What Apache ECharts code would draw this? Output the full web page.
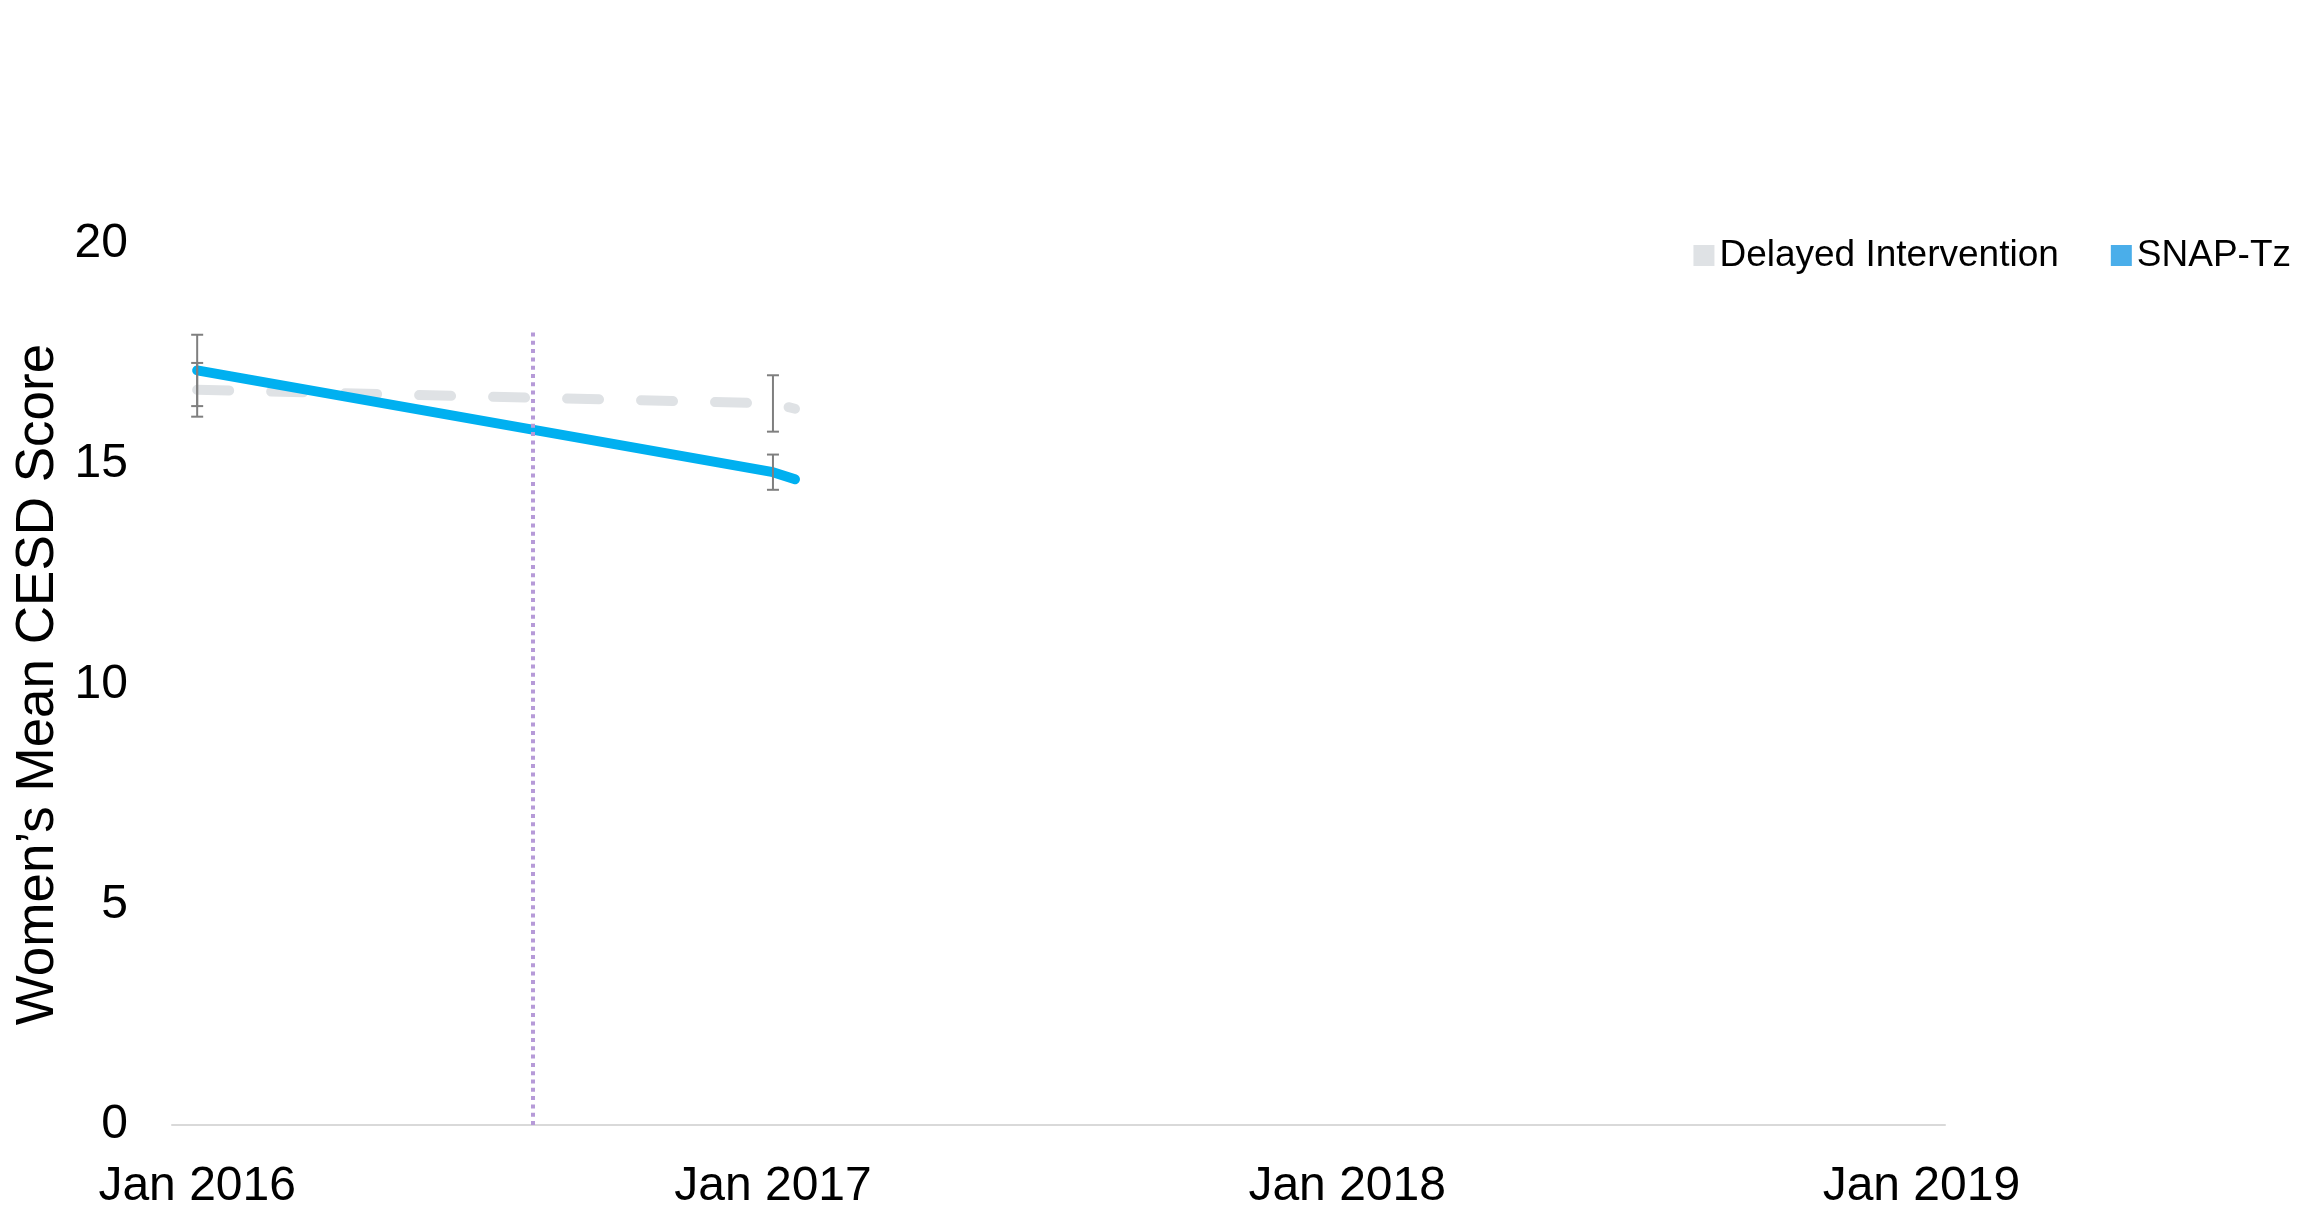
<!DOCTYPE html>
<html>
<head>
<meta charset="utf-8">
<script src="https://cdn.jsdelivr.net/npm/echarts@6/dist/echarts.min.js"></script>
<style>
  html, body { margin: 0; padding: 0; background: #ffffff; }
  #chart { width: 2320px; height: 1207px; }
</style>
</head>
<body>
<div id="chart"></div>
<script>
// Group names
const seriesNames = ['Delayed Intervention', 'SNAP-Tz'];

// Assessment dates and women's mean CES-D scores per group
const visitDates = ['2016-01-01', '2017-01-01', '2017-01-15'];
const delayedMeans = [16.69, 16.38, 16.26];
const snapMeans = [17.13, 14.82, 14.66];

// Error bar half-widths at the two assessments
const errorDates = ['2016-01-01', '2017-01-01'];
const delayedErr = [0.61, 0.64];
const snapErr = [0.81, 0.40];

// Start of the intervention (vertical reference line)
const interventionDate = '2016-08-01';
const interventionTop = 18;

// Axis ticks
const yearTicks = ['2016-01-01', '2017-01-01', '2018-01-01', '2019-01-01'];
const axisStart = '2015-12-16';
const axisEnd = '2019-01-16';
const yMin = 0, yMax = 20, yStep = 5;

const FONT = '"Liberation Sans", Arial, sans-serif';
const MONTHS = ['Jan', 'Feb', 'Mar', 'Apr', 'May', 'Jun', 'Jul', 'Aug', 'Sep', 'Oct', 'Nov', 'Dec'];

// Dates are placed on a linear axis in milliseconds
function t(s) {
  const p = s.split('-').map(Number);
  return Date.UTC(p[0], p[1] - 1, p[2]);
}

const delayedData = visitDates.map((d, i) => [t(d), delayedMeans[i]]);
const snapData = visitDates.map((d, i) => [t(d), snapMeans[i]]);
const errData = errorDates.map((d, i) => [t(d), delayedMeans[i], delayedErr[i]])
  .concat(errorDates.map((d, i) => [t(d), snapMeans[i], snapErr[i]]));

function renderErrorBar(params, api) {
  const x = api.value(0), m = api.value(1), e = api.value(2);
  const top = api.coord([x, m + e]);
  const bot = api.coord([x, m - e]);
  const hw = 6;
  const style = { stroke: '#7f7f7f', lineWidth: 2 };
  return {
    type: 'group',
    children: [
      { type: 'line', shape: { x1: top[0], y1: top[1], x2: bot[0], y2: bot[1] }, style },
      { type: 'line', shape: { x1: top[0] - hw, y1: top[1], x2: top[0] + hw, y2: top[1] }, style },
      { type: 'line', shape: { x1: bot[0] - hw, y1: bot[1], x2: bot[0] + hw, y2: bot[1] }, style }
    ]
  };
}

const chart = echarts.init(document.getElementById('chart'), null, { renderer: 'canvas' });
chart.setOption({
  animation: false,
  backgroundColor: '#ffffff',
  grid: { left: 172, right: 375, top: 244, bottom: 82, outerBoundsMode: 'none' },
  legend: {
    right: 24,
    top: 232,
    icon: 'rect',
    itemWidth: 21,
    itemHeight: 21,
    itemGap: 52,
    selectedMode: false,
    textStyle: { fontSize: 37, color: '#000000', fontFamily: FONT },
    data: [
      { name: seriesNames[0], itemStyle: { color: '#dfe2e5' } },
      { name: seriesNames[1], itemStyle: { color: '#4aaeea' } }
    ]
  },
  xAxis: {
    type: 'value',
    min: t(axisStart),
    max: t(axisEnd),
    axisLine: { lineStyle: { color: '#d9d9d9', width: 2 } },
    axisTick: { show: false },
    splitLine: { show: false },
    axisLabel: {
      customValues: yearTicks.map(t),
      formatter: v => {
        const d = new Date(v);
        return MONTHS[d.getUTCMonth()] + ' ' + d.getUTCFullYear();
      },
      fontSize: 48,
      color: '#000000',
      fontFamily: FONT,
      margin: 38,
      hideOverlap: false
    }
  },
  yAxis: {
    type: 'value',
    min: yMin,
    max: yMax,
    interval: yStep,
    axisLine: { show: false },
    axisTick: { show: false },
    splitLine: { show: false },
    axisLabel: { fontSize: 48, color: '#000000', fontFamily: FONT, margin: 44 },
    name: 'Women’s Mean CESD Score',
    nameLocation: 'middle',
    nameRotate: 90,
    nameGap: 107,
    nameMoveOverlap: false,
    nameTextStyle: { fontSize: 53, color: '#000000', fontFamily: FONT }
  },
  series: [
    {
      name: seriesNames[0],
      type: 'line',
      data: delayedData,
      showSymbol: false,
      symbol: 'none',
      z: 3,
      lineStyle: { color: '#dfe2e5', width: 10, type: [32, 42], cap: 'round', join: 'round' },
      itemStyle: { color: '#dfe2e5' }
    },
    {
      name: seriesNames[1],
      type: 'line',
      data: snapData,
      showSymbol: false,
      symbol: 'none',
      z: 4,
      lineStyle: { color: '#00b0f0', width: 10, cap: 'round', join: 'round' },
      itemStyle: { color: '#00b0f0' }
    },
    {
      name: 'intervention',
      type: 'line',
      data: [],
      z: 5,
      markLine: {
        silent: true,
        symbol: ['none', 'none'],
        label: { show: false },
        lineStyle: { color: '#b69ad8', width: 4, type: [4, 4.3] },
        data: [[
          { coord: [t(interventionDate), yMin] },
          { coord: [t(interventionDate), interventionTop] }
        ]]
      }
    },
    {
      name: 'error',
      type: 'custom',
      data: errData,
      z: 6,
      renderItem: renderErrorBar,
      encode: { x: 0, y: 1 }
    }
  ]
});
</script>
</body>
</html>
